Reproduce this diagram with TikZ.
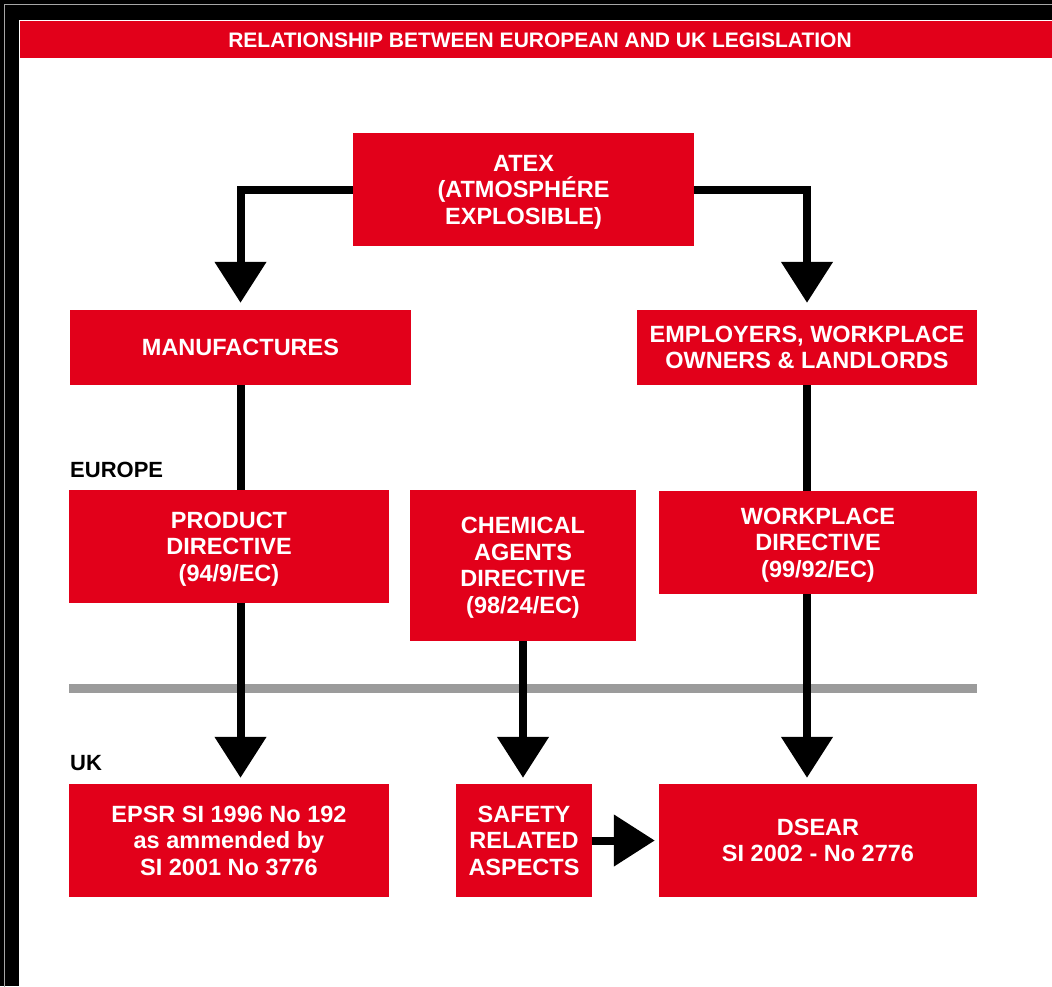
\documentclass[tikz,border=0pt]{standalone}
\usepackage{fontspec}
\setmainfont{Liberation Sans}
\usetikzlibrary{arrows.meta}
\definecolor{legred}{RGB}{226,0,26}
\definecolor{leggrey}{RGB}{155,155,155}
\pgfdeclarelayer{back}
\pgfdeclarelayer{mid}
\pgfsetlayers{back,mid,main}
\tikzset{
  redbox/.style={fill=legred, text=white, font=\fontsize{23.5}{26.5}\selectfont\bfseries,
    align=center, inner sep=0pt, text depth=-3pt},
  conn/.style={draw=black, line width=8pt, -{Triangle[width=50pt,length=41pt]}},
  region/.style={font=\fontsize{22}{22}\selectfont\bfseries, text=black, anchor=base west, inner sep=0pt},
}
\begin{document}
\begin{tikzpicture}[x=1pt,y=-1pt]
\useasboundingbox (0,0) rectangle (1052,986);
\begin{pgfonlayer}{back}
  \fill[black] (0,0) rectangle (1052,986);
  \draw[gray!70, line width=0.8pt] (4.5,1060) -- (4.5,4.5) -- (1060,4.5);
  \fill[white] (19,20) rectangle (1052,986);
  \fill[legred] (20,21) rectangle (1052,58);
\end{pgfonlayer}
\node[text=white, font=\fontsize{21}{21}\selectfont\bfseries, inner sep=0pt] (title) at (540,40) {RELATIONSHIP BETWEEN EUROPEAN AND UK LEGISLATION};

\node[redbox, minimum width=341pt, minimum height=113pt] (atex) at (523.5,189.5) {ATEX\\(ATMOSPHÉRE\\EXPLOSIBLE)};
\node[redbox, minimum width=341pt, minimum height=75pt] (manu) at (240.5,347.5) {MANUFACTURES};
\node[redbox, minimum width=340pt, minimum height=75pt] (empl) at (807,347.5) {EMPLOYERS, WORKPLACE\\OWNERS \& LANDLORDS};
\node[redbox, minimum width=320pt, minimum height=113pt] (prod) at (229,546.5) {PRODUCT\\DIRECTIVE\\(94/9/EC)};
\node[redbox, minimum width=226pt, minimum height=151pt] (chem) at (523,565.5) {CHEMICAL\\AGENTS\\DIRECTIVE\\(98/24/EC)};
\node[redbox, minimum width=318pt, minimum height=103pt] (work) at (818,542.5) {WORKPLACE\\DIRECTIVE\\(99/92/EC)};
\node[redbox, minimum width=320pt, minimum height=113pt] (epsr) at (229,840.5) {EPSR SI 1996 No 192\\as ammended by\\SI 2001 No 3776};
\node[redbox, minimum width=136pt, minimum height=113pt] (safe) at (524,840.5) {SAFETY\\RELATED\\ASPECTS};
\node[redbox, minimum width=318pt, minimum height=113pt] (dsear) at (818,840.5) {DSEAR\\SI 2002 - No 2776};

\node[region] (europe) at (70,477) {EUROPE};
\node[region] (uk) at (70,770) {UK};

\begin{pgfonlayer}{mid}
  \draw[leggrey, line width=9pt] (69,688) -- (977,688);
  \draw[conn] (atex.west) -| ([yshift=7pt]manu.north);
  \draw[conn] (atex.east) -| ([yshift=7pt]empl.north);
  \draw[conn] (manu.south) -- ([yshift=6pt]manu.south |- epsr.north);
  \draw[conn] (chem.south) -- ([yshift=6pt]chem.south |- safe.north);
  \draw[conn] (empl.south) -- ([yshift=6pt]empl.south |- dsear.north);
  \draw[conn] (safe.east) -- ([xshift=-4pt]dsear.west);
\end{pgfonlayer}
\end{tikzpicture}
\end{document}
